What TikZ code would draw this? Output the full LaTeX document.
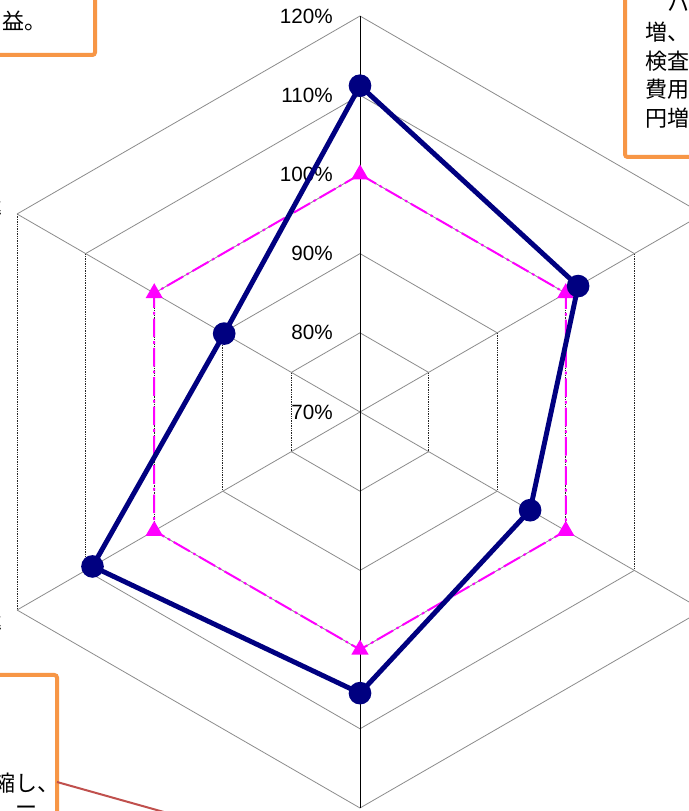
\documentclass[tikz,border=0pt]{standalone}
\usepackage{fontspec}
\setmainfont{Liberation Sans}
\newfontfamily\jpfont{Noto Sans CJK JP}
\usetikzlibrary{positioning,calc,shapes.geometric}
\definecolor{rdNavy}{RGB}{0,0,128}
\definecolor{rdMagenta}{RGB}{255,0,255}
\definecolor{rdOrange}{RGB}{247,150,70}
\definecolor{rdRed}{RGB}{192,80,77}
\definecolor{rdGrid}{RGB}{140,140,140}

\tikzset{
  ringedge/.style={rdGrid, line width=0.6pt},
  ringside/.style={black!85, line width=0.75pt, dash pattern=on 1pt off 0.8pt},
  spoke/.style={rdGrid, line width=0.6pt},
  pctlabel/.style={anchor=east, inner sep=0pt, font=\fontsize{15.5}{15.5}\selectfont},
  actual/.style={rdNavy, line width=3.7pt, line join=round},
  actualdot/.style={circle, fill=rdNavy, inner sep=0pt, minimum size=17pt},
  target/.style={rdMagenta, line width=1.5pt, dash pattern=on 14pt off 3pt on 2pt off 3pt},
  targetmark/.style={regular polygon, regular polygon sides=3, fill=rdMagenta, inner sep=0pt, minimum size=15pt},
  callout/.style={rdOrange, line width=3pt, fill=white, rounded corners=2pt},
  notetext/.style={anchor=west, inner sep=0pt, font=\jpfont\fontsize{16.5}{21.4}\selectfont}
}

\begin{document}
\begin{tikzpicture}[x=0.75pt, y=0.75pt]
  \useasboundingbox (0,0) rectangle (689,811);
  \fill[white] (0,0) rectangle (689,811);
  \clip (0,0) rectangle (689,811);

  % Radar grid, 70% at the centre, 10% per ring
  \begin{scope}[shift={(360,399)}]
    \foreach \k in {1,...,5}{
      \pgfmathsetmacro{\r}{79.2*\k}
      \draw[ringedge] (150:\r) -- (90:\r) -- (30:\r);
      \draw[ringedge] (-30:\r) -- (-90:\r) -- (210:\r);
      \draw[ringside] (30:\r) -- (-30:\r);
      \draw[ringside] (150:\r) -- (210:\r);
    }
    \foreach \a in {30,-30,210,150}
      \draw[spoke] (0,0) -- (\a:396);
    \draw[black, line width=0.75pt] (-90:396) -- (90:396);

    % Scale labels
    \foreach \v [count=\k from 0] in {70,80,90,100,110,120}
      \node[pctlabel] (pct\v) at (-27,{79.2*\k}) {\v\%};

    % Target (100%)
    \foreach \a [count=\i] in {90,30,-30,-90,210,150}
      \coordinate (t\i) at (\a:237.6);
    \draw[target] (t1) -- (t2) -- (t3) -- (t4) -- (t5) -- (t6) -- cycle;
    \foreach \i in {1,...,6}
      \node[targetmark] (tm\i) at (t\i) {};

    % Actual values
    \foreach \a/\v [count=\i] in {90/111.2, 30/101.8, -30/94.8, -90/105.5, 210/109, 150/89.8}
      \coordinate (a\i) at (\a:{(\v-70)*7.92});
    \draw[actual] (a1) -- (a2) -- (a3) -- (a4) -- (a5) -- (a6) -- cycle;
    \foreach \i in {1,...,6}
      \node[actualdot] (am\i) at (a\i) {};
  \end{scope}

  % Axis names (cut off at the left edge)
  \node[notetext, anchor=east] (axisUL) at (3,602) {率};
  \node[notetext, anchor=east] (axisLL) at (3,187) {率};

  % Callout, top left
  \draw[callout] (-10,821) rectangle (95,756);
  \node[notetext] (noteTL) at (2,790) {益。};

  % Callout, top right
  \draw[callout] (625,821) rectangle (700,654);
  \foreach \t [count=\i] in {　ハ,増、,検査,費用,円増}
    \node[notetext] (noteR\i) at (645,{807-28.5*(\i-1)}) {\t};

  % Callout, bottom left
  \draw[callout] (-10,136) rectangle (57,-10);
  \node[notetext] (noteBL1) at (-7,28) {縮し、};
  \node[notetext] (noteBL2) at (-7,0) {　ー};
  \coordinate (leaderL) at (57,29);
  \coordinate (leaderEnd) at (260,-28);
  \draw[rdRed, line width=1.5pt] (leaderL) -- (leaderEnd);
\end{tikzpicture}
\end{document}
